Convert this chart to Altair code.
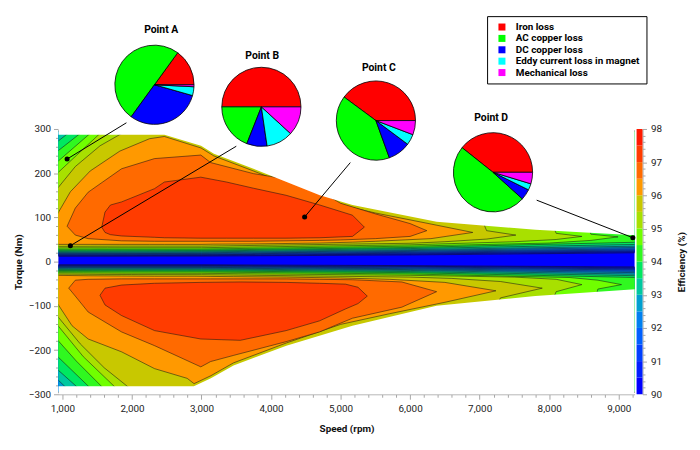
import altair as alt
import pandas as pd

FONT = "Roboto"

SPEED_DOMAIN = [943, 9228]
TORQUE_DOMAIN = [-300, 300]

# efficiency colour bands (lower edge of each 0.5 % band)
BAND_LEVELS = [90.0, 90.5, 91.0, 91.5, 92.0, 92.5, 93.0, 93.5,
               94.0, 94.5, 95.0, 95.5, 96.0, 96.5, 97.0, 97.5]
BAND_COLORS = ["#0000ff", "#0020ff", "#0040ff", "#0060ff", "#0080f0", "#00a0d0",
               "#00c8a0", "#00e860", "#30f820", "#70ff00", "#a8e000", "#c8c800",
               "#ff9900", "#ff6a00", "#ff3c00", "#ff1a00"]

# region below 90 %
BASE_REGION = [(900, -295, 295), (9300, -295, 295)]

# iso-efficiency regions, positive torque: (speed, lower torque, upper torque)
POS_REGIONS = {
    90.0: [(900, 12, 295), (3000, 12.5, 295), (6000, 15, 295), (9300, 20, 295)],
    90.5: [(900, 13.5, 295), (3000, 14, 295), (6000, 17, 295), (9300, 22, 295)],
    91.0: [(900, 15, 295), (3000, 15.5, 295), (6000, 19, 295), (9300, 24, 295)],
    91.5: [(900, 16.5, 295), (3000, 17, 295), (6000, 21, 295), (9300, 26.5, 295)],
    92.0: [(900, 18, 295), (3000, 18.5, 295), (6000, 23, 295), (9300, 29, 295)],
    92.5: [(900, 19.5, 295), (3000, 20, 295), (6000, 25, 295), (9300, 32, 295)],
    93.0: [(900, 21, 295), (3000, 22, 295), (6000, 27, 295), (9300, 35, 295)],
    93.5: [(900, 23, 268), (1080, 23.2, 290), (1150, 23.3, 295), (3000, 24, 295),
           (6000, 29.5, 295), (9300, 39, 295)],
    94.0: [(900, 25.5, 246), (1256, 25.7, 290), (1350, 25.8, 295), (3000, 26, 295),
           (6000, 32, 295), (9300, 44, 295)],
    94.5: [(900, 28, 222), (1399, 28.2, 290), (1500, 28.3, 295), (3000, 28.5, 295),
           (6000, 35, 295), (8000, 42, 295), (8600, 48, 62), (8990, 56, 56)],
    95.0: [(900, 31, 196), (1200, 31.2, 240), (1541, 31.3, 290), (1650, 31.4, 295),
           (3000, 31.5, 295), (6000, 38, 295), (7500, 45, 295), (8100, 50, 64),
           (8470, 57, 57)],
    95.5: [(900, 34.5, 160), (1185, 34.6, 215), (1541, 34.8, 262), (1854, 35, 290),
           (1950, 35, 295), (3000, 35, 295), (6000, 41.5, 295), (6500, 45, 295),
           (7100, 51, 70), (7520, 60, 60)],
    96.0: [(900, 39, 100), (1114, 39, 158), (1399, 39, 205), (1826, 39, 250),
           (2253, 39, 278), (2466, 39, 283), (2993, 39, 257), (3178, 39.5, 239),
           (3747, 40, 205), (4701, 42, 145), (5171, 44, 122), (5500, 46, 110),
           (6300, 52, 85), (6901, 66, 66)],
    96.5: [(1067, 80, 80), (1185, 60, 121), (1370, 52, 157), (1850, 47, 210),
           (2324, 46, 233), (2990, 46, 241), (3131, 46, 224), (3747, 46, 199),
           (4217, 47, 187), (4700, 48, 160), (5000, 49, 132), (5500, 52, 108),
           (6000, 57, 86), (6240, 70, 70)],
    97.0: [(1565, 78, 78), (1612, 66, 112), (1690, 61, 128), (1850, 58, 135),
           (2324, 55, 165), (2466, 54, 180), (2990, 53, 191), (3360, 53, 180),
           (3747, 53, 166), (4217, 53, 150), (4701, 54, 128), (5171, 57, 105),
           (5342, 78, 78)],
}

# iso-efficiency regions, negative torque: (speed, lower torque, upper torque)
NEG_REGIONS = {
    90.0: [(900, -295, -7), (3000, -295, -7), (6000, -295, -9), (9300, -295, -12)],
    90.5: [(900, -295, -8.5), (3000, -295, -8.5), (6000, -295, -10.5), (9300, -295, -14)],
    91.0: [(900, -295, -10), (3000, -295, -10), (6000, -295, -12), (9300, -295, -16.5)],
    91.5: [(900, -295, -11.5), (3000, -295, -11.5), (6000, -295, -14), (9300, -295, -19)],
    92.0: [(900, -295, -13), (3000, -295, -13), (6000, -295, -16), (9300, -295, -22)],
    92.5: [(900, -295, -14.5), (3000, -295, -14.5), (6000, -295, -18), (9300, -295, -25)],
    93.0: [(900, -262, -16), (1085, -290, -16.2), (1150, -295, -16.3), (3000, -295, -16.5),
           (6000, -295, -20), (9300, -295, -28.5)],
    93.5: [(900, -240, -18), (1256, -290, -18.2), (1350, -295, -18.3), (3000, -295, -18.5),
           (6000, -295, -22.5), (9300, -295, -32)],
    94.0: [(900, -210, -20), (1427, -290, -20.5), (1550, -295, -20.6), (3000, -295, -21),
           (6000, -295, -25), (9300, -295, -36)],
    94.5: [(900, -172, -22.5), (1200, -225, -22.8), (1612, -290, -23), (1700, -295, -23.1),
           (3000, -295, -23.5), (6000, -295, -28), (8300, -295, -36), (8700, -62, -42),
           (9040, -52, -52)],
    95.0: [(900, -138, -25), (1300, -215, -25.5), (1797, -290, -26), (1900, -295, -26.1),
           (3000, -295, -26.5), (6000, -295, -31), (7500, -295, -35), (8100, -68, -40),
           (8470, -52, -52)],
    95.5: [(900, -118, -28), (1256, -186, -28.5), (1600, -240, -29), (1996, -290, -29.2),
           (2100, -295, -29.3), (3000, -295, -29.5), (6000, -295, -35), (6600, -295, -38),
           (7300, -82, -45), (7900, -60, -60)],
    96.0: [(900, -88, -31), (1138, -145, -31.5), (1370, -175, -32), (1850, -204, -32.5),
           (2324, -242, -33), (2794, -264, -33), (2893, -276, -33), (3135, -258, -33.5),
           (3460, -229, -34), (4220, -184, -35), (5000, -142, -37), (5700, -118, -40),
           (6500, -92, -47), (7234, -66, -66)],
    96.5: [(1090, -60, -60), (1185, -78, -42), (1370, -114, -40), (1850, -159, -39),
           (2324, -190, -39), (2990, -238, -39), (3131, -226, -39), (3463, -212, -39),
           (4217, -181, -39), (4697, -159, -40), (5171, -128, -41), (5880, -103, -46),
           (6381, -68, -68)],
    97.0: [(1540, -76, -76), (1612, -98, -60), (1850, -122, -53), (2324, -156, -49),
           (2990, -175, -47), (3558, -178, -46), (4217, -156, -47), (4697, -134, -49),
           (5071, -107, -51), (5250, -95, -58), (5384, -78, -78)],
}

# torque-speed envelope (speed, torque)
POS_ENVELOPE = [(900, 287), (2466, 287), (2993, 262), (3178, 244), (3747, 210),
                (4701, 150), (5171, 128), (6381, 90), (7804, 72), (9300, 59)]
NEG_ENVELOPE = [(900, -282), (2890, -282), (3135, -264), (3460, -235), (4220, -190),
                (5170, -145), (6380, -100), (7800, -78), (9300, -62)]

# loss breakdown pies
LOSS_TYPES = ["Iron loss", "AC copper loss", "DC copper loss",
              "Eddy current loss in magnet", "Mechanical loss"]
LOSS_COLORS = ["#ff0000", "#00ff00", "#0000ff", "#00ffff", "#ff00ff"]
POINT_NAMES = ["Point A", "Point B", "Point C", "Point D"]
POINT_SHARES = [
    [15.0, 50.0, 30.6, 3.6, 0.8],
    [50.0, 19.0, 8.3, 10.9, 11.8],
    [39.9, 40.7, 9.3, 4.4, 5.8],
    [39.3, 49.0, 4.4, 2.6, 4.7],
]
POINT_SPEED = [1067, 1114, 4483, 9203]
POINT_TORQUE = [232, 36, 101, 54]
# annotation anchors in chart coordinates (speed, torque)
PIE_SPEED = [2323, 3861, 5508, 7192]
PIE_TORQUE = [400, 350, 319, 202]
LABEL_SPEED = [2420, 3872, 5550, 7165]
LABEL_TORQUE = [524, 466, 437, 325]
LEADER_SPEED = [1920, 3500, 5140, 7820]
LEADER_TORQUE = [314, 261, 224, 139]

PLOT_W, PLOT_H = 582, 268
AXIS_GRAY = "#a6a6a6"


def xscale():
    return alt.Scale(domain=SPEED_DOMAIN, nice=False, zero=False)


def yscale():
    return alt.Scale(domain=TORQUE_DOMAIN, nice=False, zero=False)


X_AXIS = alt.Axis(
    title="Speed (rpm)",
    values=list(range(1000, 9201, 200)),
    labelExpr="datum.value % 1000 == 0 ? format(datum.value, ',') : ''",
    tickSize={"condition": {"test": "datum.value % 1000 == 0", "value": 5}, "value": 3},
    labelOverlap=False, labelFlush=False, labelPadding=4, titlePadding=11,
)
Y_AXIS = alt.Axis(
    title="Torque (Nm)",
    values=list(range(-300, 301, 20)),
    labelExpr="datum.value % 100 == 0 ? format(datum.value, 'd') : ''",
    tickSize={"condition": {"test": "datum.value % 100 == 0", "value": 5}, "value": 3},
    labelOverlap=False, labelFlush=False, labelPadding=3, titlePadding=5,
)


def X(field):
    return alt.X(field, type="quantitative", scale=xscale(), axis=X_AXIS)


def Y(field):
    return alt.Y(field, type="quantitative", scale=yscale(), axis=Y_AXIS)


FILL_SCALE = alt.Scale(domain=[89.5] + BAND_LEVELS, range=["#0000ff"] + BAND_COLORS)


def region_layer(level, regions, stroke=True):
    rows = []
    for side, pts in regions:
        for s, lo, hi in pts:
            rows.append({"side": side, "level": level, "s": s, "lo": lo, "hi": hi})
    df = pd.DataFrame(rows)
    mark = alt.Chart(df).mark_area(
        clip=True, fillOpacity=1,
        stroke="#141414" if stroke else "transparent",
        strokeWidth=0.6, strokeOpacity=0.9,
    )
    return mark.encode(
        x=X("s"), y=Y("hi"), y2="lo",
        fill=alt.Fill("level:O", scale=FILL_SCALE, legend=None),
        detail="side:N",
    )


layers = [region_layer(89.5, [("all", BASE_REGION)], stroke=False)]
for lev in BAND_LEVELS:
    regs = []
    if lev in POS_REGIONS:
        regs.append(("pos", POS_REGIONS[lev]))
    if lev in NEG_REGIONS:
        regs.append(("neg", NEG_REGIONS[lev]))
    if regs:
        layers.append(region_layer(lev, regs))

# white mask outside the torque-speed envelope
pos_env = pd.DataFrame({"s": [p[0] for p in POS_ENVELOPE], "t": [p[1] for p in POS_ENVELOPE],
                        "edge": [320] * len(POS_ENVELOPE)})
neg_env = pd.DataFrame({"s": [p[0] for p in NEG_ENVELOPE], "t": [p[1] for p in NEG_ENVELOPE],
                        "edge": [-320] * len(NEG_ENVELOPE)})
for env in (pos_env, neg_env):
    layers.append(
        alt.Chart(env).mark_area(clip=True, color="white", fillOpacity=1)
        .encode(x=X("s"), y=Y("t"), y2="edge")
    )

ann = pd.DataFrame({
    "name": POINT_NAMES, "s0": POINT_SPEED, "t0": POINT_TORQUE,
    "s1": LEADER_SPEED, "t1": LEADER_TORQUE,
    "ls": LABEL_SPEED, "lt": LABEL_TORQUE,
})
layers.append(
    alt.Chart(ann).mark_rule(color="black", strokeWidth=1)
    .encode(x=X("s0"), y=Y("t0"), x2="s1", y2="t1")
)
layers.append(
    alt.Chart(ann).mark_circle(color="black", size=26, opacity=1)
    .encode(x=X("s0"), y=Y("t0"))
)

LEGEND = alt.Legend(
    title=None, orient="none", legendX=433, legendY=-114,
    strokeColor="black", fillColor="white", padding=6, symbolOffset=4,
    symbolType="square", symbolSize=50, symbolStrokeWidth=0,
    labelFont=FONT, labelFontSize=10, labelFontWeight="bold", labelColor="black",
    labelOffset=9, rowPadding=1.5, labelLimit=200,
)

for i, name in enumerate(POINT_NAMES):
    pie = pd.DataFrame({
        "loss": LOSS_TYPES, "k": list(range(len(LOSS_TYPES))), "v": POINT_SHARES[i],
        "cx": [PIE_SPEED[i]] * len(LOSS_TYPES), "cy": [PIE_TORQUE[i]] * len(LOSS_TYPES),
    })
    layers.append(
        alt.Chart(pie).mark_arc(radius=40, stroke="black", strokeWidth=0.8)
        .encode(
            x=X("cx"), y=Y("cy"),
            theta=alt.Theta("v:Q", stack="normalize",
                            scale=alt.Scale(domain=[0, 1], range=[7.853982, 1.570796])),
            color=alt.Color("loss:N", scale=alt.Scale(domain=LOSS_TYPES, range=LOSS_COLORS),
                            legend=LEGEND),
            order=alt.Order("k:Q"),
        )
    )

layers.append(
    alt.Chart(ann).mark_text(font=FONT, fontSize=10.5, fontWeight="bold", color="black")
    .encode(x=X("ls"), y=Y("lt"), text="name:N")
)

main = alt.layer(*layers).properties(width=PLOT_W, height=PLOT_H)

cb_df = pd.DataFrame({"lo": BAND_LEVELS, "hi": [v + 0.5 for v in BAND_LEVELS]})
colorbar = alt.Chart(cb_df).mark_rect().encode(
    y=alt.Y("lo:Q", scale=alt.Scale(domain=[90, 98], nice=False, zero=False),
            axis=alt.Axis(
                orient="right", title="Efficiency (%)", titleAngle=270,
                values=[round(90 + 0.2 * i, 1) for i in range(41)],
                labelExpr="abs(datum.value - round(datum.value)) < 0.01 ? format(datum.value, '.0f') : ''",
                tickSize={"condition": {"test": "abs(datum.value - round(datum.value)) < 0.01",
                                        "value": 4}, "value": 2.5},
                labelOverlap=False, labelFlush=False, labelPadding=4, titlePadding=25,
            )),
    y2="hi:Q",
    color=alt.Color("lo:O", scale=alt.Scale(domain=BAND_LEVELS, range=BAND_COLORS), legend=None),
).properties(width=6, height=PLOT_H)

chart = (
    alt.hconcat(main, colorbar, spacing=2, bounds="flush")
    .resolve_scale(y="independent", color="independent")
    .configure_view(strokeWidth=0)
    .configure_axis(
        grid=False, domainColor=AXIS_GRAY, tickColor=AXIS_GRAY,
        labelFont=FONT, labelFontSize=10, labelColor="#222",
        titleFont=FONT, titleFontSize=10, titleFontWeight="bold", titleColor="#111",
    )
)

chart.save("out.html", embed_options={"renderer": "svg", "actions": False})
